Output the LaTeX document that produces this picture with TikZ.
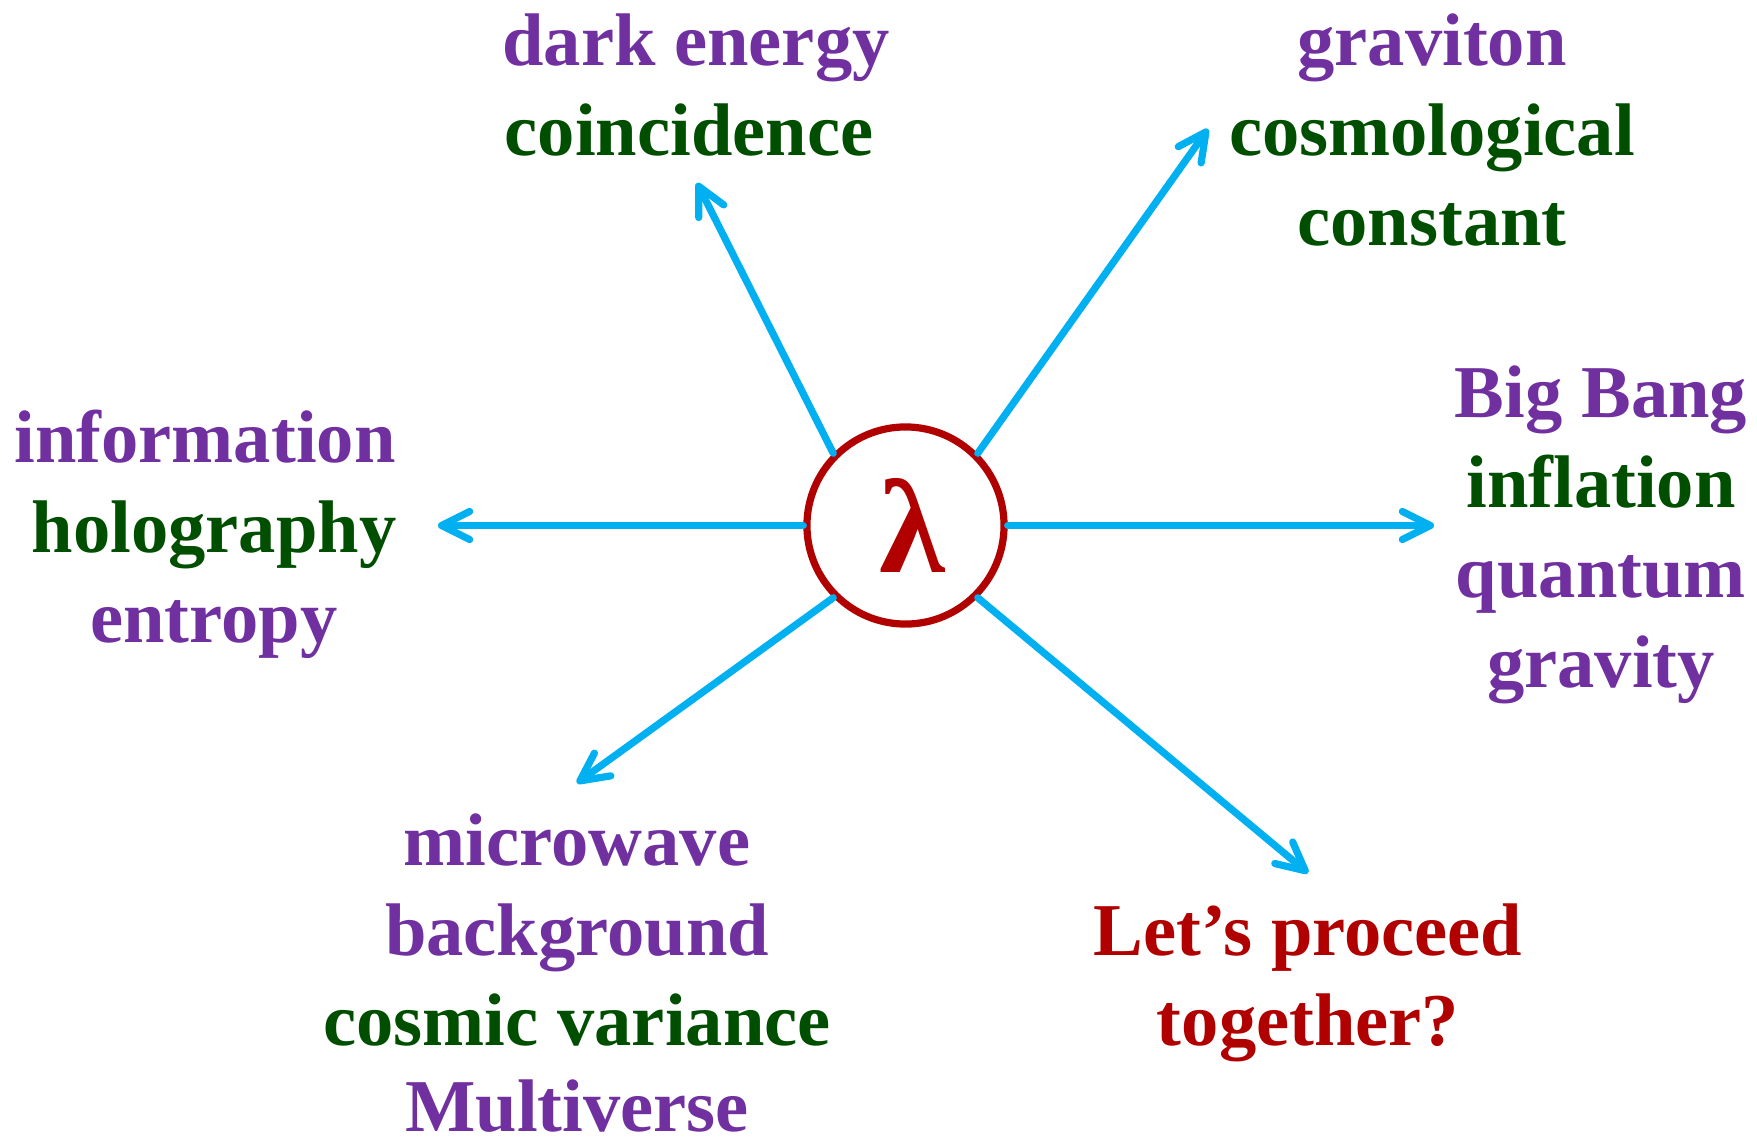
\documentclass[tikz,border=0pt]{standalone}
\usepackage{fontspec}
\setmainfont{Liberation Serif}
\usetikzlibrary{arrows.meta}
\definecolor{skyblue}{HTML}{00B0F0}
\definecolor{lamred}{HTML}{B00000}
\definecolor{purp}{HTML}{7030A0}
\definecolor{grn}{HTML}{004F00}
\begin{document}
\begin{tikzpicture}[x=0.01cm, y=-0.01cm, font=\fontsize{21.2}{25.6}\selectfont\bfseries,
    ray/.style={draw=skyblue, line width=0.072cm, line cap=round,
        -{Straight Barb[length=2.8mm, width=2.8mm, round]}},
    word/.style={anchor=base, inner sep=0pt}]
    \useasboundingbox (0,0) rectangle (1757,1139);
    \node[circle, draw=lamred, line width=0.072cm, minimum size=1.97cm, inner sep=0pt,
        text=lamred, font=\fontsize{38}{42}\selectfont\bfseries] (lam) at (905.5,525.5) {\kern0.14cm λ};
    % top
    \node[word, text=purp] (dark) at (696,65) {dark energy};
    \node[word, text=grn] (coinc) at (689,155) {coincidence};
    \node[word, text=purp] (grav) at (1432,65) {graviton};
    \node[word, text=grn] (cosmo) at (1432,155) {cosmological};
    \node[word, text=grn] (const) at (1432,245) {constant};
    % left and right
    \node[word, text=purp] (info) at (205,462) {information};
    \node[word, text=grn] (holo) at (214,552) {holography};
    \node[word, text=purp] (entr) at (214,642) {entropy};
    \node[word, text=purp] (bang) at (1601,417) {Big Bang};
    \node[word, text=grn] (infl) at (1601,507) {inflation};
    \node[word, text=purp] (quant) at (1601,597) {quantum};
    \node[word, text=purp] (gravity) at (1601,687) {gravity};
    % bottom
    \node[word, text=purp] (micro) at (577,865) {microwave};
    \node[word, text=purp] (backgr) at (577,955) {background};
    \node[word, text=grn] (cosmic) at (577,1045) {cosmic variance};
    \node[word, text=purp] (multi) at (577,1131) {Multiverse};
    \node[word, text=lamred] (lets) at (1308,955) {Let’s proceed};
    \node[word, text=lamred] (toget) at (1308,1045) {together?};
    % arrows
    \coordinate (tipDE) at (697,183);
    \coordinate (tipGC) at (1208,129);
    \coordinate (tipIH) at (438,525.5);
    \coordinate (tipBB) at (1434,525.5);
    \coordinate (tipMW) at (577,783);
    \coordinate (tipLP) at (1308,873);
    \draw[ray] (lam.135) -- (tipDE);
    \draw[ray] (lam.45) -- (tipGC);
    \draw[ray] (lam.west) -- (tipIH);
    \draw[ray] (lam.east) -- (tipBB);
    \draw[ray] (lam.225) -- (tipMW);
    \draw[ray] (lam.315) -- (tipLP);
\end{tikzpicture}
\end{document}
